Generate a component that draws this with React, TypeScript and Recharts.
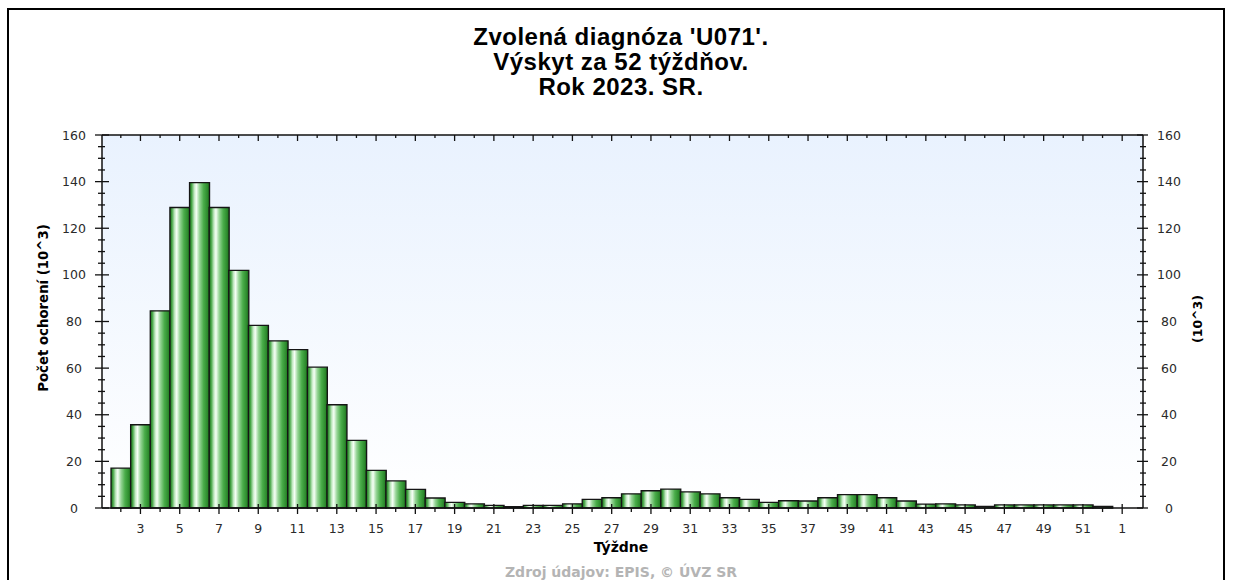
import React from "react";
import { ComposedChart, Bar, Line, XAxis, YAxis, CartesianGrid } from "recharts";

const weekLabels: string[] = [
  "2","3","4","5","6","7","8","9","10","11","12","13","14","15","16","17","18","19","20","21",
  "22","23","24","25","26","27","28","29","30","31","32","33","34","35","36","37","38","39","40","41",
  "42","43","44","45","46","47","48","49","50","51","52","1",
];

const cases: (number | null)[] = [
  17.1, 35.7, 84.6, 128.9, 139.6, 128.9, 101.9, 78.3, 71.7, 67.9,
  60.4, 44.3, 29.0, 16.1, 11.6, 8.0, 4.3, 2.4, 1.8, 1.1,
  0.6, 1.1, 1.1, 1.8, 3.7, 4.4, 6.1, 7.4, 8.1, 6.9,
  6.1, 4.4, 3.7, 2.4, 3.1, 3.0, 4.4, 5.7, 5.7, 4.4,
  3.0, 1.7, 1.8, 1.3, 0.7, 1.3, 1.3, 1.3, 1.3, 1.3,
  0.7, null,
];

const yTicks: number[] = [
  0, 5, 10, 15, 20, 25, 30, 35, 40, 45, 50, 55, 60, 65, 70, 75, 80,
  85, 90, 95, 100, 105, 110, 115, 120, 125, 130, 135, 140, 145, 150, 155, 160,
];

const titleLines: string[] = ["Zvolená diagnóza 'U071'.", "Výskyt za 52 týždňov.", "Rok 2023. SR."];
const xTitle = "Týždne";
const yTitle = "Počet ochorení (10^3)";
const yRightTitle = "(10^3)";
const footer = "Zdroj údajov: EPIS, © ÚVZ SR";

const data = weekLabels.map((w, i) => ({ week: w, value: cases[i] }));

const TICK_FONT = "'DejaVu Sans', sans-serif";
const TICK_COLOR = "#2a2a2a";

const BottomTick = (props: any) => {
  const { x, y, payload, index } = props;
  const major = index % 2 === 1;
  return (
    <g>
      <line x1={x} x2={x} y1={major ? y - 4 : y} y2={major ? y + 6 : y + 4} stroke="#111" strokeWidth={1.3} />
      {major && (
        <text x={x} y={y + 25} textAnchor="middle" fontFamily={TICK_FONT} fontSize={12.5} fill={TICK_COLOR}>
          {payload.value}
        </text>
      )}
    </g>
  );
};

const TopTick = (props: any) => {
  const { x, y, index } = props;
  const major = index % 2 === 1;
  return <line x1={x} x2={x} y1={y} y2={y + (major ? 6 : 3)} stroke="#111" strokeWidth={1.3} />;
};

const LeftTick = (props: any) => {
  const { x, y, payload } = props;
  const v = payload.value as number;
  const major = v % 20 === 0;
  return (
    <g>
      <line x1={major ? x - 7 : x - 4} x2={major ? x + 7 : x + 3} y1={y} y2={y} stroke="#111" strokeWidth={1.3} />
      {major && (
        <text x={x - 28} y={y} dy="0.36em" textAnchor="middle" fontFamily={TICK_FONT} fontSize={12.5} fill={TICK_COLOR}>
          {v}
        </text>
      )}
    </g>
  );
};

const RightTick = (props: any) => {
  const { x, y, payload } = props;
  const v = payload.value as number;
  const major = v % 20 === 0;
  return (
    <g>
      <line x1={major ? x - 6 : x - 3} x2={major ? x + 5 : x + 3} y1={y} y2={y} stroke="#111" strokeWidth={1.3} />
      {major && (
        <text x={x + 26} y={y} dy="0.36em" textAnchor="middle" fontFamily={TICK_FONT} fontSize={12.5} fill={TICK_COLOR}>
          {v}
        </text>
      )}
    </g>
  );
};

export default function App() {
  return (
    <div style={{ position: "fixed", left: 0, top: 0, width: 1233, height: 580, background: "#fff", overflow: "hidden" }}>
      <div
        style={{
          position: "absolute",
          left: 7,
          top: 8,
          width: 1218,
          height: 640,
          border: "2px solid #000",
          boxSizing: "border-box",
        }}
      />
      <div style={{ position: "absolute", left: 0, top: 0 }}>
        <ComposedChart
          width={1233}
          height={580}
          data={data}
          barCategoryGap={0}
          margin={{ top: 125, right: 30, bottom: 32, left: 42 }}
        >
          <defs>
            <linearGradient id="plotBg" x1="0" y1="0" x2="0" y2="1">
              <stop offset="0%" stopColor="#e9f2fe" />
              <stop offset="100%" stopColor="#ffffff" />
            </linearGradient>
            <linearGradient id="barFill" x1="0" y1="0" x2="1" y2="0">
              <stop offset="0%" stopColor="#1d661d" />
              <stop offset="10%" stopColor="#43a443" />
              <stop offset="24%" stopColor="#c4eac4" />
              <stop offset="34%" stopColor="#f6fff6" />
              <stop offset="50%" stopColor="#97d597" />
              <stop offset="70%" stopColor="#4aad4a" />
              <stop offset="90%" stopColor="#2c8a2c" />
              <stop offset="100%" stopColor="#1a5f1a" />
            </linearGradient>
          </defs>
          <CartesianGrid xAxisId="b" yAxisId="l" fill="url(#plotBg)" stroke="none" horizontal={false} vertical={false} />
          <XAxis
            xAxisId="b"
            dataKey="week"
            height={40}
            interval={0}
            padding={{ left: 9, right: 11 }}
            axisLine={{ stroke: "#111", strokeWidth: 1.5 }}
            tickLine={false}
            tickSize={0}
            tickMargin={0}
            tick={<BottomTick />}
          />
          <XAxis
            xAxisId="t"
            dataKey="week"
            orientation="top"
            height={10}
            interval={0}
            padding={{ left: 9, right: 11 }}
            axisLine={{ stroke: "#111", strokeWidth: 1.5 }}
            tickLine={false}
            tickSize={0}
            tickMargin={0}
            tick={<TopTick />}
          />
          <YAxis
            yAxisId="l"
            width={60}
            domain={[0, 160]}
            ticks={yTicks}
            interval={0}
            axisLine={{ stroke: "#111", strokeWidth: 1.5 }}
            tickLine={false}
            tickSize={0}
            tickMargin={0}
            tick={<LeftTick />}
          />
          <YAxis
            yAxisId="r"
            orientation="right"
            width={60}
            domain={[0, 160]}
            ticks={yTicks}
            interval={0}
            axisLine={{ stroke: "#111", strokeWidth: 1.5 }}
            tickLine={false}
            tickSize={0}
            tickMargin={0}
            tick={<RightTick />}
          />
          <Bar
            xAxisId="b"
            yAxisId="l"
            dataKey="value"
            fill="url(#barFill)"
            stroke="#151515"
            strokeWidth={1.3}
            isAnimationActive={false}
          />
          <Line
            xAxisId="t"
            yAxisId="r"
            dataKey="value"
            stroke="none"
            dot={false}
            activeDot={false}
            legendType="none"
            isAnimationActive={false}
          />
        </ComposedChart>
      </div>
      <svg
        width={1233}
        height={580}
        style={{ position: "absolute", left: 0, top: 0, pointerEvents: "none" }}
      >
        {titleLines.map((t, i) => (
          <text
            key={i}
            x={621}
            y={45 + i * 25}
            textAnchor="middle"
            fontFamily="'Liberation Sans', Arial, sans-serif"
            fontWeight="bold"
            fontSize={24}
            letterSpacing={0.5}
            fill="#000"
          >
            {t}
          </text>
        ))}
        <text x={621} y={552} textAnchor="middle" fontFamily={TICK_FONT} fontWeight="bold" fontSize={14} fill="#000">
          {xTitle}
        </text>
        <text
          x={0}
          y={0}
          transform="translate(48 308) rotate(-90)"
          textAnchor="middle"
          fontFamily={TICK_FONT}
          fontWeight="bold"
          fontSize={13.3}
          fill="#000"
        >
          {yTitle}
        </text>
        <text
          x={0}
          y={0}
          transform="translate(1202 319) rotate(-90)"
          textAnchor="middle"
          fontFamily={TICK_FONT}
          fontWeight="bold"
          fontSize={12.5}
          fill="#000"
        >
          {yRightTitle}
        </text>
        <text x={621} y={577} textAnchor="middle" fontFamily={TICK_FONT} fontWeight="bold" fontSize={14} fill="#b4b4b4">
          {footer}
        </text>
      </svg>
    </div>
  );
}
